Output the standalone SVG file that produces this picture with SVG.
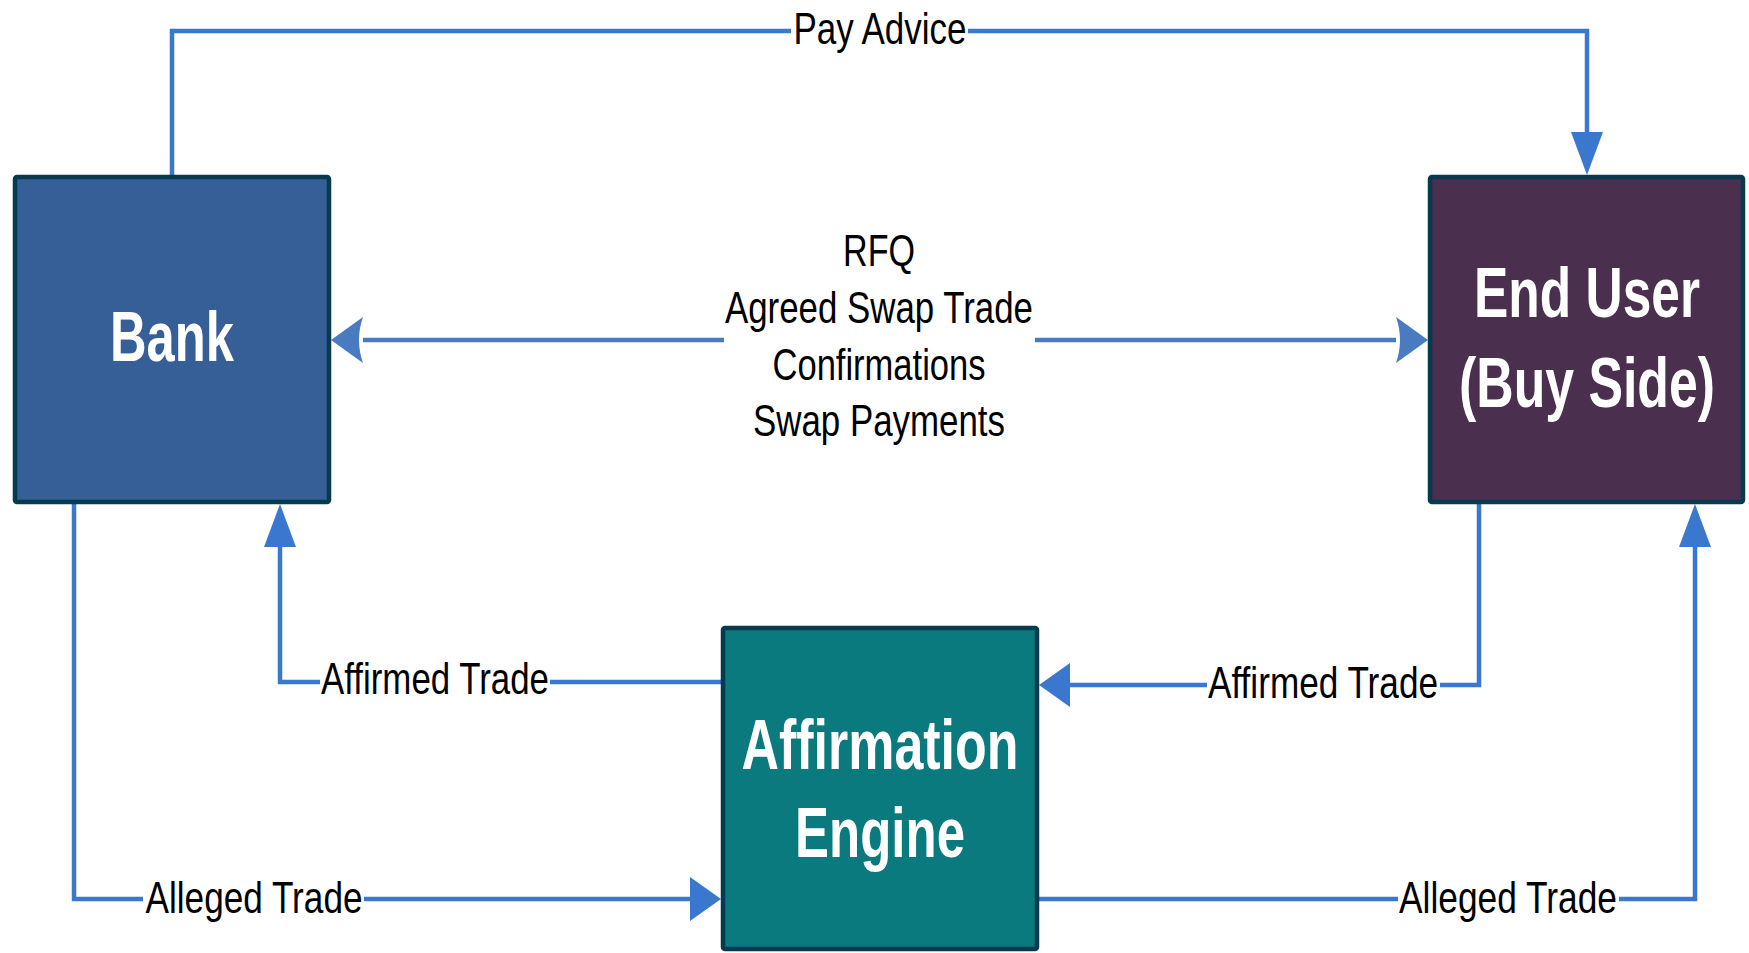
<svg xmlns="http://www.w3.org/2000/svg" width="1749" height="953" viewBox="0 0 1749 953">
  <style>
    .box { stroke: #063a4f; stroke-width: 4.5; }
    .node-label { font-family: "Liberation Sans", Arial, sans-serif; font-weight: bold; font-size: 71px; fill: #ffffff; text-anchor: middle; }
    .edge-label { font-family: "Liberation Sans", Arial, sans-serif; font-size: 45px; fill: #000000; text-anchor: middle; }
    .flow { fill: none; stroke: #3a78d0; stroke-width: 4.5; }
    .flow-main { fill: none; stroke: #4a7bc1; stroke-width: 4.5; }
  </style>
  <defs>
    <!-- head for horizontal runs -->
    <marker id="headH" viewBox="0 0 31 44" refX="0" refY="22" markerWidth="31" markerHeight="44" markerUnits="userSpaceOnUse" orient="auto">
      <path d="M0,0 L31,22 L0,44 Z" fill="#3a78d0"/>
    </marker>
    <!-- head for vertical runs -->
    <marker id="headV" viewBox="0 0 43 32" refX="0" refY="16" markerWidth="43" markerHeight="32" markerUnits="userSpaceOnUse" orient="auto">
      <path d="M0,0 L43,16 L0,32 Z" fill="#3a78d0"/>
    </marker>
    <!-- concave head for the main exchange -->
    <marker id="headC" viewBox="0 0 32 46" refX="0" refY="23" markerWidth="32" markerHeight="46" markerUnits="userSpaceOnUse" orient="auto-start-reverse">
      <path d="M0,0 L32,23 L0,46 Q8,23 0,0 Z" fill="#4a7bc1"/>
    </marker>
  </defs>

  <rect width="1749" height="953" fill="#ffffff"/>

  <g id="connectors">
    <!-- Pay Advice: Bank to End User over the top -->
    <path class="flow" d="M172,175 V31 H791 M968,31 H1587 V132" marker-end="url(#headV)"/>
    <text class="edge-label" x="880" y="44" textLength="173" lengthAdjust="spacingAndGlyphs">Pay Advice</text>

    <!-- Main exchange between Bank and End User -->
    <path class="flow-main" d="M363,340 H724 M1035,340 H1396" marker-start="url(#headC)" marker-end="url(#headC)"/>
    <text class="edge-label" x="879" y="266" textLength="72" lengthAdjust="spacingAndGlyphs">RFQ</text>
    <text class="edge-label" x="879" y="323" textLength="308" lengthAdjust="spacingAndGlyphs">Agreed Swap Trade</text>
    <text class="edge-label" x="879" y="380" textLength="213" lengthAdjust="spacingAndGlyphs">Confirmations</text>
    <text class="edge-label" x="879" y="436" textLength="252" lengthAdjust="spacingAndGlyphs">Swap Payments</text>

    <!-- Bank to Affirmation Engine -->
    <path class="flow" d="M74,504 V899 H143 M364,899 H690" marker-end="url(#headH)"/>
    <text class="edge-label" x="254" y="913" textLength="217" lengthAdjust="spacingAndGlyphs">Alleged Trade</text>

    <!-- Affirmation Engine to Bank -->
    <path class="flow" d="M721,682 H550 M320,682 H280 V547" marker-end="url(#headV)"/>
    <text class="edge-label" x="435" y="694" textLength="228" lengthAdjust="spacingAndGlyphs">Affirmed Trade</text>

    <!-- End User to Affirmation Engine -->
    <path class="flow" d="M1479,504 V685 H1440 M1207,685 H1070" marker-end="url(#headH)"/>
    <text class="edge-label" x="1323" y="698" textLength="230" lengthAdjust="spacingAndGlyphs">Affirmed Trade</text>

    <!-- Affirmation Engine to End User -->
    <path class="flow" d="M1039,899 H1398 M1619,899 H1695 V547" marker-end="url(#headV)"/>
    <text class="edge-label" x="1508" y="913" textLength="218" lengthAdjust="spacingAndGlyphs">Alleged Trade</text>
  </g>

  <g id="bank">
    <rect class="box" x="15" y="177" width="314" height="325" rx="2" fill="#365f98"/>
    <text class="node-label" x="172" y="361" textLength="124" lengthAdjust="spacingAndGlyphs">Bank</text>
  </g>

  <g id="end-user">
    <rect class="box" x="1430" y="177" width="313" height="325" rx="2" fill="#4a2f4e"/>
    <text class="node-label" x="1587" y="317" textLength="226" lengthAdjust="spacingAndGlyphs">End User</text>
    <text class="node-label" x="1587" y="407" textLength="256" lengthAdjust="spacingAndGlyphs">(Buy Side)</text>
  </g>

  <g id="affirmation-engine">
    <rect class="box" x="723" y="628" width="314" height="321" rx="2" fill="#0a7a7e"/>
    <text class="node-label" x="880" y="769" textLength="277" lengthAdjust="spacingAndGlyphs">Affirmation</text>
    <text class="node-label" x="880" y="857" textLength="170" lengthAdjust="spacingAndGlyphs">Engine</text>
  </g>
</svg>
